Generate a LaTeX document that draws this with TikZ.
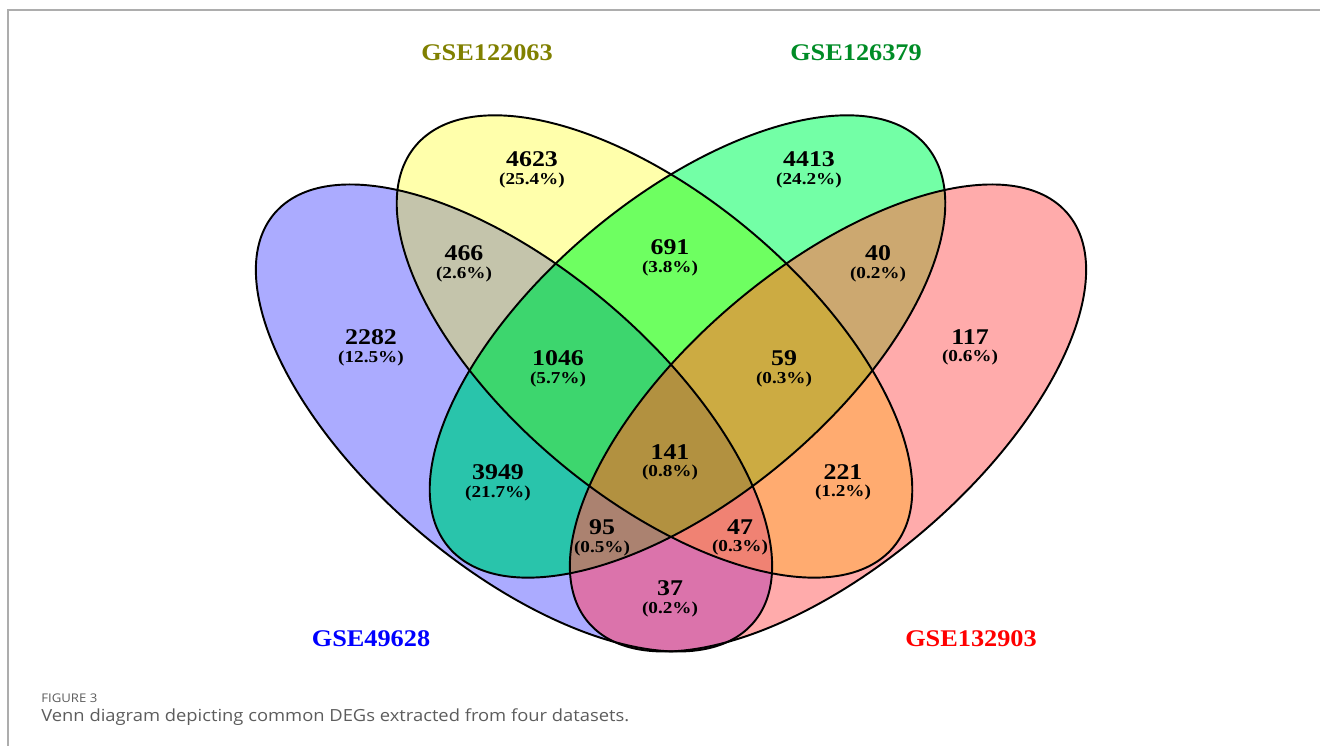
\documentclass[tikz,border=0pt]{standalone}
\usepackage{fontspec}
\usepackage{tikz}
\usetikzlibrary{positioning}
\newfontfamily\vennfont[FakeStretch=1.15]{Liberation Serif}
\newfontfamily\setfont[FakeStretch=1.1]{Liberation Serif}
\newfontfamily\capfont[FakeStretch=1.1]{Open Sans}
\definecolor{vb}{rgb}{0.67, 0.67, 1}
\definecolor{vy}{rgb}{1, 1, 0.67}
\definecolor{vg}{rgb}{0.45, 1, 0.65}
\definecolor{vr}{rgb}{1, 0.67, 0.67}
\definecolor{vby}{rgb}{0.77, 0.77, 0.67}
\definecolor{vbg}{rgb}{0.16, 0.77, 0.67}
\definecolor{vbr}{rgb}{0.86, 0.45, 0.67}
\definecolor{vyg}{rgb}{0.43, 1, 0.38}
\definecolor{vyr}{rgb}{1, 0.67, 0.44}
\definecolor{vgr}{rgb}{0.8, 0.66, 0.44}
\definecolor{vbyg}{rgb}{0.24, 0.84, 0.43}
\definecolor{vbyr}{rgb}{0.94, 0.51, 0.45}
\definecolor{vbgr}{rgb}{0.67, 0.51, 0.44}
\definecolor{vygr}{rgb}{0.8, 0.67, 0.26}
\definecolor{vall}{rgb}{0.7, 0.57, 0.25}
\definecolor{molive}{rgb}{0.5, 0.5, 0}
\definecolor{mgreen}{rgb}{0, 0.55, 0.15}
\definecolor{mframe}{rgb}{0.68, 0.68, 0.68}
\definecolor{mcap}{rgb}{0.36, 0.36, 0.36}
\tikzset{num/.style = {font=\vennfont\bfseries\fontsize{12.8}{14}\selectfont, inner sep = 0}}
\tikzset{pct/.style = {font=\vennfont\bfseries\fontsize{9.5}{11}\selectfont, inner sep = 0}}
\tikzset{setname/.style = {font=\setfont\bfseries\fontsize{13.6}{16}\selectfont, inner sep = 0}}
\tikzset{outline/.style = {draw = black, line width = 1.1pt}}
\tikzset{setb/.style = {shift = {(514, 328)}, rotate = -40.5}}
\tikzset{sety/.style = {shift = {(654.5, 399.5)}, rotate = -40}}
\tikzset{setg/.style = {shift = {(687.5, 399.5)}, rotate = 40}}
\tikzset{setr/.style = {shift = {(828, 328)}, rotate = 40.5}}
\newcommand{\outerell}{(0, 0) ellipse (315 and 148)}
\newcommand{\innerell}{(0, 0) ellipse (312 and 150)}

\begin{document}
\begin{tikzpicture}[x=0.02cm, y=0.02cm]
    \useasboundingbox (0, 0) rectangle (1320, 746);
    \draw [mframe, line width = 1pt] (8, 0) -- (8, 736) -- (1320, 736);

    % single sets
    \fill [vb, setb] \outerell;
    \fill [vy, sety] \innerell;
    \fill [vg, setg] \innerell;
    \fill [vr, setr] \outerell;

    % two sets
    \begin{scope}
      \clip [setb] \outerell;
      \fill [vby, sety] \innerell;
      \fill [vbg, setg] \innerell;
      \fill [vbr, setr] \outerell;
    \end{scope}
    \begin{scope}
      \clip [sety] \innerell;
      \fill [vyg, setg] \innerell;
      \fill [vyr, setr] \outerell;
    \end{scope}
    \begin{scope}
      \clip [setg] \innerell;
      \fill [vgr, setr] \outerell;
    \end{scope}

    % three and four sets
    \begin{scope}
      \clip [setb] \outerell;
      \clip [sety] \innerell;
      \fill [vbyg, setg] \innerell;
      \fill [vbyr, setr] \outerell;
    \end{scope}
    \begin{scope}
      \clip [setg] \innerell;
      \clip [setr] \outerell;
      \fill [vbgr, setb] \outerell;
      \fill [vygr, sety] \innerell;
    \end{scope}
    \begin{scope}
      \clip [setb] \outerell;
      \clip [sety] \innerell;
      \clip [setg] \innerell;
      \fill [vall, setr] \outerell;
    \end{scope}

    \draw [outline, setb] \outerell;
    \draw [outline, sety] \innerell;
    \draw [outline, setg] \innerell;
    \draw [outline, setr] \outerell;

    \node [num] (n2282) at (371, 409) {2282};
    \node [pct, below = 3pt of n2282] (p2282) {(12.5\%)};
    \node [num] (n4623) at (532, 587) {4623};
    \node [pct, below = 3pt of n4623] (p4623) {(25.4\%)};
    \node [num] (n4413) at (809, 587) {4413};
    \node [pct, below = 3pt of n4413] (p4413) {(24.2\%)};
    \node [num] (n117) at (970, 409) {117};
    \node [pct, below = 3pt of n117] (p117) {(0.6\%)};
    \node [num] (n466) at (464, 493) {466};
    \node [pct, below = 3pt of n466] (p466) {(2.6\%)};
    \node [num] (n691) at (670, 499) {691};
    \node [pct, below = 3pt of n691] (p691) {(3.8\%)};
    \node [num] (n40) at (878, 493) {40};
    \node [pct, below = 3pt of n40] (p40) {(0.2\%)};
    \node [num] (n1046) at (558, 388) {1046};
    \node [pct, below = 3pt of n1046] (p1046) {(5.7\%)};
    \node [num] (n59) at (784, 388) {59};
    \node [pct, below = 3pt of n59] (p59) {(0.3\%)};
    \node [num] (n141) at (670, 294) {141};
    \node [pct, below = 3pt of n141] (p141) {(0.8\%)};
    \node [num] (n3949) at (498, 274) {3949};
    \node [pct, below = 3pt of n3949] (p3949) {(21.7\%)};
    \node [num] (n221) at (843, 274) {221};
    \node [pct, below = 3pt of n221] (p221) {(1.2\%)};
    \node [num] (n95) at (602, 219) {95};
    \node [pct, below = 3pt of n95] (p95) {(0.5\%)};
    \node [num] (n47) at (740, 219) {47};
    \node [pct, below = 3pt of n47] (p47) {(0.3\%)};
    \node [num] (n37) at (670, 158) {37};
    \node [pct, below = 3pt of n37] (p37) {(0.2\%)};

    \node [setname, molive] (t122063) at (487, 693) {GSE122063};
    \node [setname, mgreen] (t126379) at (856, 693) {GSE126379};
    \node [setname, blue] (t49628) at (371, 107) {GSE49628};
    \node [setname, red] (t132903) at (971, 107) {GSE132903};

    \node [anchor = base west, inner sep = 0, mcap, font=\capfont\fontsize{6.8}{8}\selectfont] (figno) at (41, 43) {FIGURE 3};
    \node [anchor = base west, inner sep = 0, mcap, font=\capfont\fontsize{9.5}{11}\selectfont] (figcap) at (41, 24) {Venn diagram depicting common DEGs extracted from four datasets.};
  \end{tikzpicture}
\end{document}
